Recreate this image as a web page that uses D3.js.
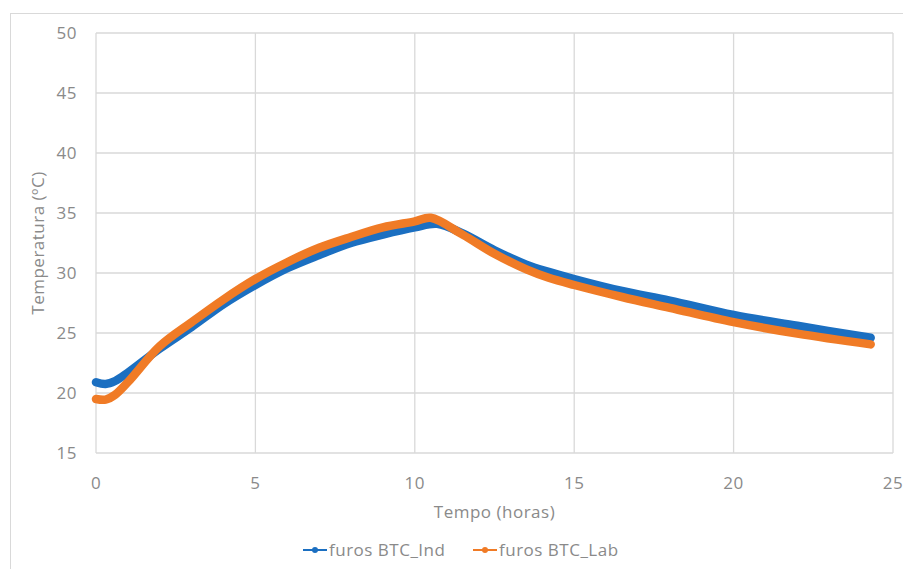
<!DOCTYPE html>
<html>
<head>
<meta charset="utf-8">
<script src="https://cdn.jsdelivr.net/npm/d3@7"></script>
<style>
  body { margin: 0; background: #fff; }
  text { font-family: "Open Sans", "Noto Sans", sans-serif; fill: #8a8a8a; letter-spacing: 0.5px; }
</style>
</head>
<body>
<div id="vizcontainer"></div>
<script>
// values
const timeInd = [0, 0.3, 0.6, 1, 2, 3, 4, 5, 6, 7, 8, 9, 10, 10.7, 11.5, 12.5, 13.5, 14.2, 15, 16.5, 18, 20, 22, 24.3];
const tempInd = [20.9, 20.75, 21.0, 21.7, 23.7, 25.5, 27.4, 29.0, 30.4, 31.5, 32.5, 33.2, 33.8, 34.1, 33.3, 31.9, 30.7, 30.1, 29.5, 28.5, 27.7, 26.5, 25.6, 24.6];

const timeLab = [0, 0.3, 0.6, 1, 2, 3, 4, 5, 6, 7, 8, 9, 10, 10.5, 11.5, 12.5, 13.5, 14.2, 15, 16.5, 18, 20, 22, 24.3];
const tempLab = [19.5, 19.45, 19.85, 20.9, 23.9, 25.9, 27.8, 29.5, 30.9, 32.1, 33.0, 33.8, 34.3, 34.6, 33.2, 31.6, 30.3, 29.6, 29.0, 28.0, 27.1, 25.9, 24.95, 24.05];

const xTicks = [0, 5, 10, 15, 20, 25];
const yTicks = [15, 20, 25, 30, 35, 40, 45, 50];

const seriesNames = ['furos BTC_Ind', 'furos BTC_Lab'];
const seriesColors = ['#1b6fc1', '#f07b26'];

const
  width = 903,
  height = 569,
  margin = { top: 33, right: 10, bottom: 116, left: 96 },
  plotW = 893 - margin.left,
  plotH = 453 - margin.top
  ;

const svg = d3.select('#vizcontainer')
  .append('svg')
  .attr('width', width)
  .attr('height', height);

// chart frame
svg.append('rect')
  .attr('x', 10.5).attr('y', 13.5)
  .attr('width', 900).attr('height', 570)
  .attr('fill', 'none')
  .attr('stroke', '#d9d9d9');

const viz = svg.append('g')
  .attr('transform', `translate(${margin.left},${margin.top})`);

const x = d3.scaleLinear().domain([0, 25]).range([0, plotW]);
const y = d3.scaleLinear().domain([15, 50]).range([plotH, 0]);

// grid
viz.append('g')
  .selectAll('line')
  .data(yTicks)
  .join('line')
  .attr('x1', 0).attr('x2', plotW)
  .attr('y1', d => y(d)).attr('y2', d => y(d))
  .attr('stroke', '#d9d9d9').attr('stroke-width', 1.3);

viz.append('g')
  .selectAll('line')
  .data(xTicks)
  .join('line')
  .attr('x1', d => x(d)).attr('x2', d => x(d))
  .attr('y1', 0).attr('y2', plotH)
  .attr('stroke', '#d9d9d9').attr('stroke-width', 1.3);

// tick labels
viz.append('g')
  .selectAll('text')
  .data(yTicks)
  .join('text')
  .attr('x', -19)
  .attr('y', d => y(d))
  .attr('dy', '0.35em')
  .attr('text-anchor', 'end')
  .style('font-size', '17px')
  .text(d => d);

viz.append('g')
  .selectAll('text')
  .data(xTicks)
  .join('text')
  .attr('x', d => x(d))
  .attr('y', plotH + 36)
  .attr('text-anchor', 'middle')
  .style('font-size', '17px')
  .text(d => d);

// axis titles
svg.append('text')
  .attr('x', margin.left + plotW / 2)
  .attr('y', 518)
  .attr('text-anchor', 'middle')
  .style('font-size', '17px')
  .text('Tempo (horas)');

svg.append('text')
  .attr('transform', `translate(44,${margin.top + plotH / 2}) rotate(-90)`)
  .attr('text-anchor', 'middle')
  .style('font-size', '17px')
  .text('Temperatura (ºC)');

// series
const series = [
  timeInd.map((t, i) => [t, tempInd[i]]),
  timeLab.map((t, i) => [t, tempLab[i]])
];

const line = d3.line()
  .x(d => x(d[0]))
  .y(d => y(d[1]))
  .curve(d3.curveCatmullRom.alpha(0.5));

viz.append('g')
  .selectAll('path')
  .data(series)
  .join('path')
  .attr('fill', 'none')
  .attr('stroke', (d, i) => seriesColors[i])
  .attr('stroke-width', 8.5)
  .attr('stroke-linecap', 'round')
  .attr('stroke-linejoin', 'round')
  .attr('d', line);

// legend
const legendX = [303, 473];
const legend = svg.append('g')
  .selectAll('g')
  .data(seriesNames)
  .join('g')
  .attr('transform', (d, i) => `translate(${legendX[i]},550)`);

legend.append('line')
  .attr('x1', 0).attr('x2', 24)
  .attr('y1', 0).attr('y2', 0)
  .attr('stroke', (d, i) => seriesColors[i])
  .attr('stroke-width', 2);

legend.append('circle')
  .attr('cx', 12).attr('cy', 0).attr('r', 3)
  .attr('fill', (d, i) => seriesColors[i]);

legend.append('text')
  .attr('x', 26)
  .attr('y', 0)
  .attr('dy', '0.35em')
  .style('font-size', '17px')
  .text(d => d);
</script>
</body>
</html>
